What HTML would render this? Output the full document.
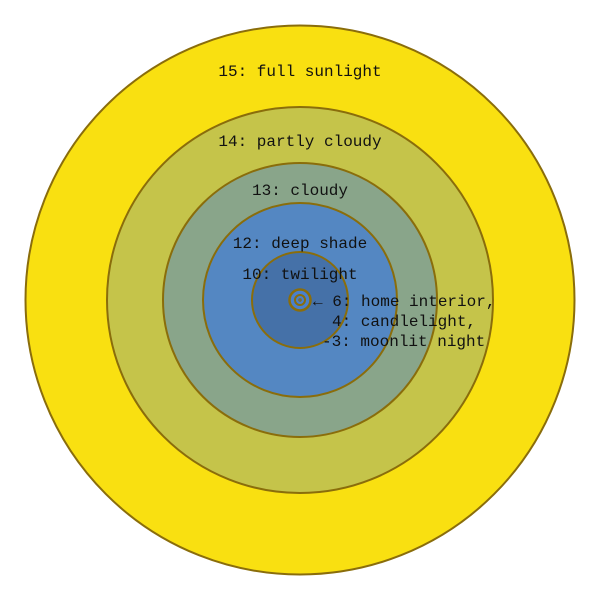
<!DOCTYPE html>
<html><head><style>html,body{margin:0;padding:0;background:#fff}svg{display:block}</style></head>
<body>
<svg width="600" height="600" viewBox="0 0 600 600" xmlns="http://www.w3.org/2000/svg">
<g stroke="#8a6d0b" stroke-width="2">
<circle cx="300" cy="300" r="274.5" fill="#f9e011"/>
<circle cx="300" cy="300" r="193" fill="#c5c44a"/>
<circle cx="300" cy="300" r="137" fill="#89a58a"/>
<circle cx="300" cy="300" r="97" fill="#5487c2"/>
<circle cx="300" cy="300" r="48" fill="#4571a8"/>
<circle cx="300" cy="300" r="10.5" fill="#4a80cc" stroke-width="2.5"/>
<circle cx="300" cy="300" r="5" fill="#4a80cc"/>
<circle cx="300" cy="300" r="1.2" fill="#4571a8" stroke-width="1"/>
</g>
<g font-family="Liberation Mono, monospace" font-size="16" fill="#111">
<text x="300" y="76" text-anchor="middle">15: full sunlight</text>
<text x="300" y="146" text-anchor="middle">14: partly cloudy</text>
<text x="300" y="195" text-anchor="middle">13: cloudy</text>
<text x="300" y="248" text-anchor="middle">12: deep shade</text>
<text x="300" y="279" text-anchor="middle">10: twilight</text>
<text x="313" y="306">← 6: home interior,</text>
<text x="332" y="326">4: candlelight,</text>
<text x="322" y="346">-3: moonlit night</text>
</g>
</svg>
</body></html>
